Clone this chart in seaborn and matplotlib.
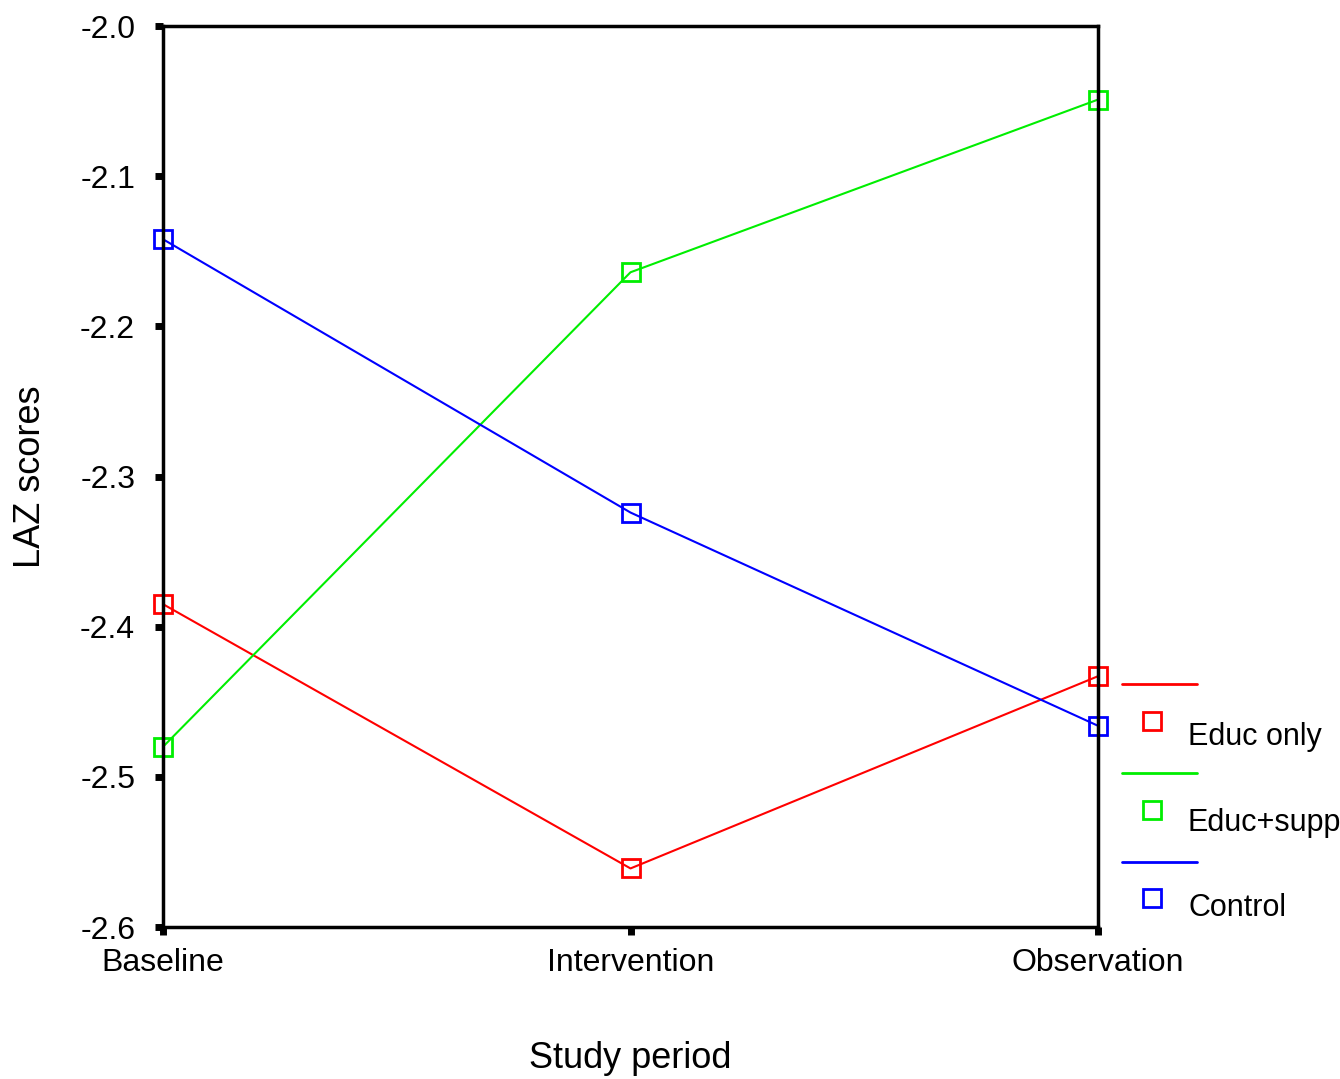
import pandas as pd
import numpy as np
import matplotlib.pyplot as plt
import seaborn as sns
from matplotlib.lines import Line2D

periods = ["Baseline", "Intervention", "Observation"]
groups = ["Educ only", "Educ+supp", "Control"]
educ_only = [-2.385, -2.561, -2.433]
educ_supp = [-2.480, -2.164, -2.049]
control = [-2.142, -2.324, -2.466]
colors = ["#ff0000", "#00ee00", "#0000ff"]

df = pd.DataFrame({
    "period": list(range(3)) * 3,
    "LAZ": educ_only + educ_supp + control,
    "group": np.repeat(groups, 3),
})

sns.set_style("white")
plt.rcParams["font.family"] = ["Liberation Sans", "DejaVu Sans"]
plt.rcParams["text.color"] = "black"
plt.rcParams["axes.labelcolor"] = "black"

fig = plt.figure(figsize=(13.4, 10.79), dpi=100)
ax = fig.add_axes([163/1340, 1-927/1079, (1098-163)/1340, (927-26)/1079])

for g, c in zip(groups, colors):
    sns.lineplot(data=df[df.group == g], x="period", y="LAZ", color=c, lw=1.5,
                 marker="s", markersize=13, markerfacecolor="none",
                 markeredgecolor=c, markeredgewidth=2, ax=ax, clip_on=False)

ax.set_xlim(0, 2)
ax.set_ylim(-2.6, -2.0)
ax.set_xticks([0, 1, 2])
ax.set_xticklabels(periods)
ax.set_yticks(np.arange(-2.6, -1.95, 0.1))
ax.set_yticklabels([f"{v:.1f}" for v in np.arange(-2.6, -1.95, 0.1)])
ax.tick_params(axis="both", bottom=True, left=True, length=6, width=5,
               direction="out", labelsize=23, color="black", labelcolor="black")
ax.tick_params(axis="y", pad=14)
ax.tick_params(axis="x", pad=9)
for s in ax.spines.values():
    s.set_color("black")
    s.set_linewidth(2.5)
ax.set_xlabel("Study period", fontsize=26, va="center")
ax.xaxis.set_label_coords(0.5, -0.146)
ax.set_ylabel("LAZ scores", fontsize=26, va="center")
ax.yaxis.set_label_coords(-0.142, 0.5)

# legend drawn beside the plot
for i, (g, c) in enumerate(zip(groups, colors)):
    yl = 1 - (684 + i*89) / 1079
    ys = 1 - (721 + i*88.5) / 1079
    yt = 1 - (737 + i*85.5) / 1079
    fig.add_artist(Line2D([1122/1340, 1197/1340], [yl, yl], color=c, lw=2))
    fig.add_artist(Line2D([1152/1340], [ys], marker="s", markersize=13,
                          markerfacecolor="none", markeredgecolor=c, markeredgewidth=2))
    fig.text(1188/1340, yt, g, fontsize=22, va="center", ha="left")

fig.savefig("out.png", dpi=100)
